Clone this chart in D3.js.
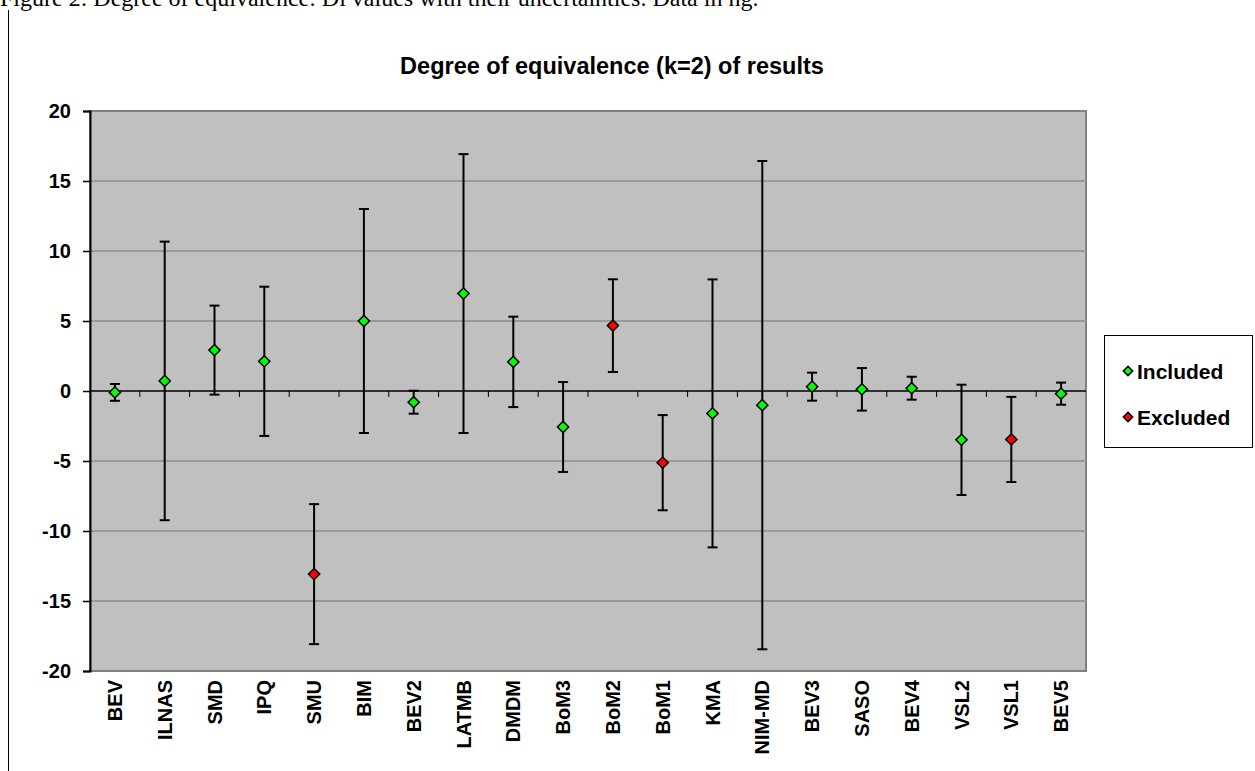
<!DOCTYPE html>
<html>
<head>
<meta charset="utf-8">
<script src="https://cdn.jsdelivr.net/npm/d3@7"></script>
<style>
  body { margin: 0; background: #fff; }
  svg { display: block; }
</style>
</head>
<body>
<div id="chart"></div>
<script>
// labs in the order they appear on the x axis
var labs = ["BEV", "ILNAS", "SMD", "IPQ", "SMU", "BIM", "BEV2", "LATMB", "DMDM", "BoM3",
            "BoM2", "BoM1", "KMA", "NIM-MD", "BEV3", "SASO", "BEV4", "VSL2", "VSL1", "BEV5"];
// degree of equivalence Di (ng)
var di = [-0.1, 0.72, 2.92, 2.12, -13.08, 5.0, -0.8, 6.96, 2.08, -2.57,
          4.67, -5.12, -1.6, -1.01, 0.31, 0.12, 0.2, -3.49, -3.46, -0.19];
// expanded uncertainty U (k=2)
var u = [0.6, 9.95, 3.18, 5.33, 5.0, 8.0, 0.82, 9.96, 3.23, 3.21,
         3.31, 3.4, 9.57, 17.44, 1.0, 1.52, 0.82, 3.94, 3.04, 0.79];
// included in reference value or not
var inclusion = ["Included", "Included", "Included", "Included", "Excluded", "Included", "Included", "Included", "Included", "Included",
                 "Excluded", "Excluded", "Included", "Included", "Included", "Included", "Included", "Included", "Excluded", "Included"];
var yTicks = [-20, -15, -10, -5, 0, 5, 10, 15, 20];
var legendItems = ["Included", "Excluded"];

var W = 1255, H = 771;
var pLeft = 90, pRight = 1086, pTop = 111, pBottom = 671;

var svg = d3.select("#chart").append("svg")
  .attr("width", W).attr("height", H);

var x = d3.scaleBand().domain(labs).range([pLeft, pRight]);
var y = d3.scaleLinear().domain([-20, 20]).range([pBottom, pTop]);
var colour = d3.scaleOrdinal().domain(legendItems).range(["#00ff00", "#ff0000"]);

// document caption (cut by the top edge) and page margin line
svg.append("text")
  .attr("x", 0).attr("y", 6)
  .style("font-family", "Liberation Serif, serif")
  .style("font-size", "24px")
  .text("Figure 2: Degree of equivalence: Di values with their uncertainties. Data in ng.");
svg.append("line")
  .attr("x1", 8.5).attr("x2", 8.5).attr("y1", 10).attr("y2", H)
  .style("stroke", "#000").style("stroke-width", 1);

// title
svg.append("text")
  .attr("x", 612).attr("y", 74)
  .attr("text-anchor", "middle")
  .style("font-family", "Liberation Sans, Arial, sans-serif")
  .style("font-weight", "bold")
  .style("font-size", "23.5px")
  .text("Degree of equivalence (k=2) of results");

// plot area
svg.append("rect")
  .attr("x", pLeft).attr("y", pTop)
  .attr("width", pRight - pLeft).attr("height", pBottom - pTop)
  .style("fill", "#c0c0c0")
  .style("stroke", "#808080").style("stroke-width", 2);

// gridlines
svg.append("g").selectAll("line")
  .data(yTicks.filter(function(d) { return d != 0 && d != 20 && d != -20; }))
  .enter().append("line")
  .attr("x1", pLeft).attr("x2", pRight)
  .attr("y1", function(d) { return y(d); })
  .attr("y2", function(d) { return y(d); })
  .style("stroke", "#999").style("stroke-width", 2);

// y axis
var yAxis = svg.append("g")
  .attr("transform", "translate(" + pLeft + ",0)")
  .call(d3.axisLeft(y).tickValues(yTicks).tickSize(7).tickPadding(12)
    .tickFormat(function(d) { return String(d); }));
yAxis.select(".domain").style("stroke", "#000").style("stroke-width", 2);
yAxis.selectAll(".tick line").style("stroke", "#000").style("stroke-width", 1.5);
yAxis.selectAll("text")
  .style("font-family", "Liberation Sans, Arial, sans-serif")
  .style("font-weight", "bold")
  .style("font-size", "20px")
  .style("fill", "#000");

// x axis line at zero with ticks at category boundaries
svg.append("line")
  .attr("x1", pLeft).attr("x2", pRight)
  .attr("y1", y(0)).attr("y2", y(0))
  .style("stroke", "#000").style("stroke-width", 1.5);
svg.append("g").selectAll("line")
  .data(labs.slice(1))
  .enter().append("line")
  .attr("x1", function(d) { return x(d); })
  .attr("x2", function(d) { return x(d); })
  .attr("y1", y(0)).attr("y2", y(0) + 6)
  .style("stroke", "#000").style("stroke-width", 1);

// category labels, rotated
svg.append("g").selectAll("text")
  .data(labs)
  .enter().append("text")
  .attr("transform", function(d) {
    return "translate(" + (x(d) + x.bandwidth() / 2 + 7) + "," + (pBottom + 9) + ") rotate(-90)";
  })
  .attr("text-anchor", "end")
  .style("font-family", "Liberation Sans, Arial, sans-serif")
  .style("font-weight", "bold")
  .style("font-size", "20px")
  .text(function(d) { return d; });

// error bars
var cx = function(i) { return x(labs[i]) + x.bandwidth() / 2; };
var bars = svg.append("g").selectAll("g")
  .data(di)
  .enter().append("g");
bars.append("line")
  .attr("x1", function(d, i) { return cx(i); })
  .attr("x2", function(d, i) { return cx(i); })
  .attr("y1", function(d, i) { return y(d + u[i]); })
  .attr("y2", function(d, i) { return y(d - u[i]); })
  .style("stroke", "#000").style("stroke-width", 2);
bars.append("line")
  .attr("x1", function(d, i) { return cx(i) - 5; })
  .attr("x2", function(d, i) { return cx(i) + 5; })
  .attr("y1", function(d, i) { return y(d + u[i]); })
  .attr("y2", function(d, i) { return y(d + u[i]); })
  .style("stroke", "#000").style("stroke-width", 2);
bars.append("line")
  .attr("x1", function(d, i) { return cx(i) - 5; })
  .attr("x2", function(d, i) { return cx(i) + 5; })
  .attr("y1", function(d, i) { return y(d - u[i]); })
  .attr("y2", function(d, i) { return y(d - u[i]); })
  .style("stroke", "#000").style("stroke-width", 2);

// diamonds
var diamond = d3.symbol().type(d3.symbolDiamond2).size(80);
svg.append("g").selectAll("path")
  .data(di)
  .enter().append("path")
  .attr("d", diamond)
  .attr("transform", function(d, i) { return "translate(" + cx(i) + "," + y(d) + ")"; })
  .style("fill", function(d, i) { return colour(inclusion[i]); })
  .style("stroke", "#000").style("stroke-width", 1.5);

// legend
var lg = svg.append("g");
lg.append("rect")
  .attr("x", 1104.5).attr("y", 335.5).attr("width", 148).attr("height", 112)
  .style("fill", "#fff").style("stroke", "#000").style("stroke-width", 1);
var item = lg.selectAll(".item")
  .data(legendItems)
  .enter().append("g")
  .attr("class", "item")
  .attr("transform", function(d, i) { return "translate(1128," + (371 + i * 46) + ")"; });
item.append("path")
  .attr("d", d3.symbol().type(d3.symbolDiamond2).size(55))
  .style("fill", function(d) { return colour(d); })
  .style("stroke", "#000").style("stroke-width", 1.5);
item.append("text")
  .attr("x", 9).attr("y", 7.5)
  .style("font-family", "Liberation Sans, Arial, sans-serif")
  .style("font-weight", "bold")
  .style("font-size", "21px")
  .text(function(d) { return d; });
</script>
</body>
</html>
